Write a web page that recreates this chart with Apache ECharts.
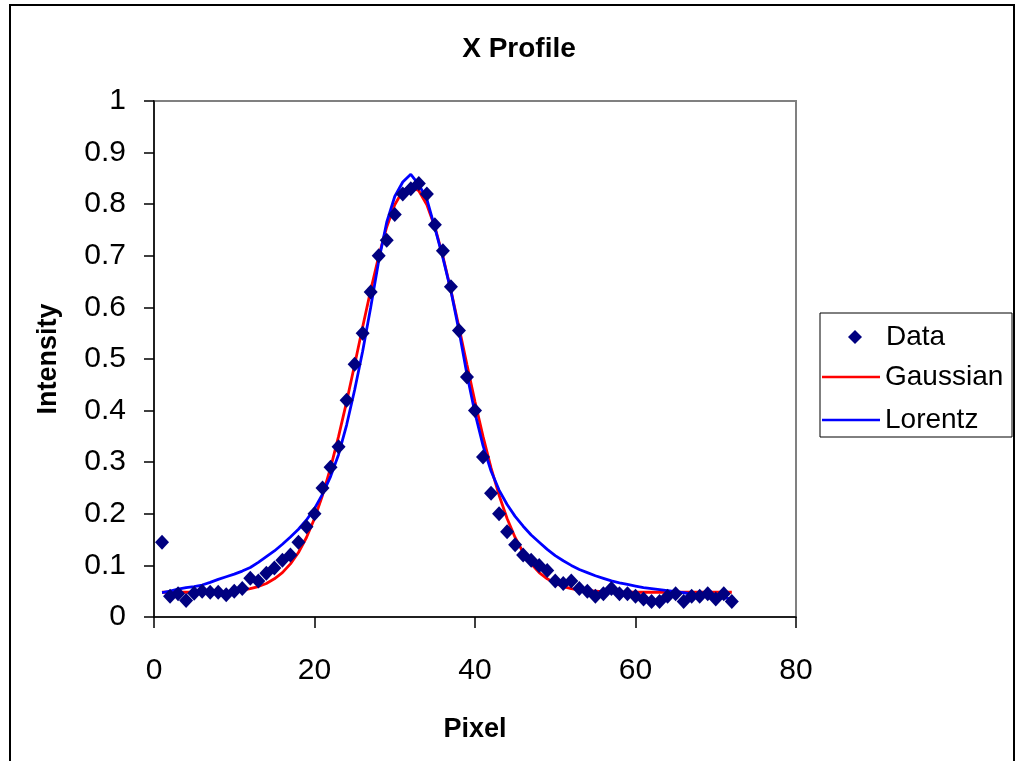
<!DOCTYPE html>
<html>
<head>
<meta charset="utf-8">
<script src="https://cdn.jsdelivr.net/npm/echarts@6/dist/echarts.min.js"></script>
<style>
  html, body { margin: 0; padding: 0; background: #fff; }
  #chart { width: 1020px; height: 761px; }
</style>
</head>
<body>
<div id="chart"></div>
<script>
var pixels = [1,2,3,4,5,6,7,8,9,10,11,12,13,14,15,16,17,18,19,20,21,22,23,24,
              25,26,27,28,29,30,31,32,33,34,35,36,37,38,39,40,41,42,43,44,45,46,47,48,
              49,50,51,52,53,54,55,56,57,58,59,60,61,62,63,64,65,66,67,68,69,70,71,72];

var dataIntensity = [0.145,0.040,0.045,0.032,0.046,0.050,0.048,0.048,0.043,0.050,0.055,0.075,
                     0.070,0.085,0.095,0.110,0.120,0.145,0.175,0.200,0.250,0.290,0.330,0.420,
                     0.490,0.550,0.630,0.700,0.730,0.780,0.820,0.830,0.840,0.820,0.760,0.710,
                     0.640,0.555,0.465,0.400,0.310,0.240,0.200,0.165,0.140,0.120,0.110,0.100,
                     0.090,0.070,0.065,0.070,0.055,0.050,0.040,0.045,0.055,0.045,0.045,0.040,
                     0.035,0.030,0.030,0.040,0.045,0.030,0.040,0.040,0.045,0.035,0.045,0.030];

var gaussian = [0.048,0.048,0.048,0.048,0.048,0.048,0.048,0.048,0.049,0.051,0.052,0.055,
                0.059,0.065,0.074,0.086,0.103,0.125,0.154,0.191,0.236,0.289,0.350,0.417,
                0.489,0.562,0.633,0.699,0.756,0.799,0.826,0.835,0.826,0.799,0.756,0.699,
                0.633,0.562,0.489,0.417,0.350,0.289,0.236,0.191,0.154,0.125,0.103,0.086,
                0.074,0.065,0.059,0.055,0.052,0.051,0.050,0.049,0.049,0.048,0.048,0.048,
                0.048,0.048,0.048,0.048,0.048,0.048,0.048,0.048,0.048,0.048,0.048,0.048];

var lorentz = [0.047,0.050,0.054,0.057,0.059,0.062,0.067,0.073,0.078,0.083,0.089,0.096,
               0.106,0.117,0.128,0.141,0.155,0.170,0.188,0.210,0.238,0.272,0.315,0.372,
               0.440,0.515,0.600,0.690,0.765,0.815,0.843,0.858,0.838,0.810,0.754,0.696,
               0.632,0.555,0.470,0.395,0.332,0.283,0.246,0.218,0.195,0.176,0.159,0.145,
               0.131,0.119,0.109,0.100,0.092,0.086,0.080,0.075,0.070,0.066,0.063,0.060,
               0.057,0.055,0.053,0.051,0.049,0.047,0.045,0.043,0.041,0.039,0.037,0.035];

var xTicks = [0, 20, 40, 60, 80];
var yTicks = [0, 0.1, 0.2, 0.3, 0.4, 0.5, 0.6, 0.7, 0.8, 0.9, 1];

function pairs(ys) {
    var out = [];
    for (var i = 0; i < pixels.length; i++) {
        out.push([pixels[i], ys[i]]);
    }
    return out;
}

var fontFam = '"Liberation Sans", Arial, sans-serif';
// thin bar used as legend icon for the two fitted curves
var lineIcon = 'path://M0,0L58,0L58,2.5L0,2.5Z';

var chart = echarts.init(document.getElementById('chart'), null, { renderer: 'canvas' });
chart.setOption({
    animation: false,
    backgroundColor: '#fff',
    title: {
        text: 'X Profile',
        left: 514,
        top: 30,
        textAlign: 'center',
        textStyle: { fontFamily: fontFam, fontSize: 28, fontWeight: 'bold', color: '#000' }
    },
    grid: {
        left: 154, right: 224, top: 101, bottom: 144,
        show: true, borderColor: '#808080', borderWidth: 2, backgroundColor: 'transparent'
    },
    graphic: [
        { type: 'rect', shape: { x: 10, y: 5, width: 1004, height: 800 },
          style: { fill: 'none', stroke: '#000', lineWidth: 2 }, z: 0 },
        { type: 'rect', shape: { x: 820, y: 313, width: 192, height: 124 },
          style: { fill: '#fff', stroke: '#000', lineWidth: 1 }, z: 0 }
    ],
    legend: [
        {
            data: ['Data'],
            left: 848, top: 323, padding: 0,
            itemWidth: 14, itemHeight: 14,
            textStyle: { fontFamily: fontFam, fontSize: 28, lineHeight: 28, color: '#000', padding: [0, 0, 0, 19] }
        },
        {
            data: [{ name: 'Gaussian', icon: lineIcon }, { name: 'Lorentz', icon: lineIcon }],
            orient: 'vertical',
            left: 822, top: 363, padding: 0,
            itemWidth: 58, itemHeight: 14, itemGap: 15,
            textStyle: { fontFamily: fontFam, fontSize: 28, lineHeight: 28, color: '#000' }
        }
    ],
    xAxis: {
        type: 'value',
        min: xTicks[0], max: xTicks[xTicks.length - 1], interval: 20,
        name: 'Pixel', nameLocation: 'middle', nameGap: 99,
        nameTextStyle: { fontFamily: fontFam, fontSize: 27, fontWeight: 'bold', color: '#000' },
        axisLine: { lineStyle: { color: '#000', width: 1.5 } },
        axisTick: { length: 11, lineStyle: { color: '#000', width: 1.5 } },
        axisLabel: { margin: 39, fontFamily: fontFam, fontSize: 30, color: '#000' },
        splitLine: { show: false }
    },
    yAxis: {
        type: 'value',
        min: yTicks[0], max: yTicks[yTicks.length - 1], interval: 0.1,
        name: 'Intensity', nameLocation: 'middle', nameGap: 92,
        nameTextStyle: { fontFamily: fontFam, fontSize: 27, fontWeight: 'bold', color: '#000' },
        axisLine: { show: true, lineStyle: { color: '#000', width: 1.5 } },
        axisTick: { show: true, length: 10, lineStyle: { color: '#000', width: 1.5 } },
        axisLabel: { margin: 28, fontFamily: fontFam, fontSize: 30, color: '#000',
                     formatter: function (v) { return String(Math.round(v * 10) / 10); } },
        splitLine: { show: false }
    },
    series: [
        {
            name: 'Gaussian', type: 'line', data: pairs(gaussian),
            showSymbol: false, symbol: 'none', z: 2,
            lineStyle: { color: '#ff0000', width: 2.8 }, itemStyle: { color: '#ff0000' }
        },
        {
            name: 'Lorentz', type: 'line', data: pairs(lorentz),
            showSymbol: false, symbol: 'none', z: 3,
            lineStyle: { color: '#0000ff', width: 2.8 }, itemStyle: { color: '#0000ff' }
        },
        {
            name: 'Data', type: 'scatter', data: pairs(dataIntensity),
            symbol: 'diamond', symbolSize: [14, 15], z: 4,
            itemStyle: { color: '#000080', opacity: 1 }
        }
    ]
});
</script>
</body>
</html>
